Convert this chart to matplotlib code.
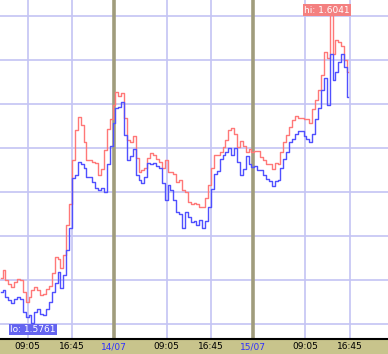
import numpy as np
import matplotlib.pyplot as plt

# half-hour samples, minutes counted from 13/07 00:00, first sample 04:30
start_min = 270
step_min = 30

ask = [1.5802, 1.5809, 1.5800, 1.5796, 1.5794, 1.5798, 1.5801, 1.5800, 1.5789, 1.5780,
       1.5785, 1.5791, 1.5794, 1.5791, 1.5786, 1.5787, 1.5792, 1.5795, 1.5806, 1.5821,
       1.5819, 1.5811, 1.5823, 1.5850, 1.5869, 1.5909, 1.5936, 1.5948, 1.5941, 1.5925,
       1.5909, 1.5909, 1.5907, 1.5906, 1.5895, 1.5901, 1.5918, 1.5937, 1.5946, 1.5959,
       1.5971, 1.5967, 1.5970, 1.5947, 1.5927, 1.5925, 1.5931, 1.5911, 1.5898, 1.5900,
       1.5902, 1.5911, 1.5915, 1.5914, 1.5910, 1.5907, 1.5902, 1.5909, 1.5898, 1.5898,
       1.5896, 1.5889, 1.5891, 1.5882, 1.5880, 1.5871, 1.5869, 1.5870, 1.5869, 1.5866,
       1.5866, 1.5875, 1.5886, 1.5902, 1.5914, 1.5914, 1.5916, 1.5921, 1.5927, 1.5936,
       1.5938, 1.5933, 1.5921, 1.5926, 1.5922, 1.5916, 1.5919, 1.5916, 1.5917, 1.5917,
       1.5912, 1.5909, 1.5905, 1.5905, 1.5901, 1.5906, 1.5905, 1.5916, 1.5925, 1.5932,
       1.5939, 1.5945, 1.5949, 1.5947, 1.5947, 1.5946, 1.5946, 1.5943, 1.5955, 1.5964,
       1.5973, 1.5986, 1.6007, 1.6002, 1.6041, 1.6005, 1.6018, 1.6016, 1.6013, 1.6000,
       1.5989]

bid = [1.5789, 1.5791, 1.5785, 1.5782, 1.5779, 1.5783, 1.5785, 1.5783, 1.5771, 1.5766,
       1.5768, 1.5761, 1.5771, 1.5774, 1.5769, 1.5768, 1.5774, 1.5780, 1.5789, 1.5797,
       1.5807, 1.5793, 1.5805, 1.5827, 1.5847, 1.5893, 1.5895, 1.5907, 1.5905, 1.5902,
       1.5894, 1.5894, 1.5889, 1.5884, 1.5882, 1.5884, 1.5880, 1.5905, 1.5922, 1.5943,
       1.5956, 1.5957, 1.5962, 1.5932, 1.5909, 1.5913, 1.5919, 1.5895, 1.5891, 1.5888,
       1.5894, 1.5906, 1.5905, 1.5906, 1.5904, 1.5902, 1.5888, 1.5873, 1.5886, 1.5882,
       1.5873, 1.5862, 1.5860, 1.5847, 1.5862, 1.5857, 1.5853, 1.5854, 1.5850, 1.5855,
       1.5847, 1.5854, 1.5866, 1.5883, 1.5896, 1.5899, 1.5910, 1.5914, 1.5916, 1.5920,
       1.5914, 1.5920, 1.5907, 1.5895, 1.5901, 1.5913, 1.5905, 1.5903, 1.5904, 1.5900,
       1.5900, 1.5895, 1.5892, 1.5890, 1.5885, 1.5890, 1.5891, 1.5902, 1.5910, 1.5916,
       1.5925, 1.5928, 1.5933, 1.5935, 1.5935, 1.5931, 1.5928, 1.5925, 1.5933, 1.5946,
       1.5956, 1.5973, 1.5984, 1.5959, 1.6005, 1.5982, 1.5989, 1.5998, 1.6005, 1.5994,
       1.5966]

days = ["13/07", "14/07", "15/07"]
session_ticks = [545, 1005]          # 09:05 and 16:45
session_labels = ["09:05", "16:45"]
price_grid = np.arange(1.576, 1.6041, 0.004)

t = start_min + step_min * np.arange(len(ask))

fig = plt.figure(figsize=(3.88, 3.54), dpi=100, facecolor="#c8c48c")
ax = fig.add_axes([0, 15 / 354, 1, 339 / 354])
ax.set_facecolor("white")

ax.set_xlim(259, 4280)
ax.set_ylim(1.57464, 1.60545)

for y in price_grid:
    ax.axhline(y, color="#c4c4f4", lw=1.2, zorder=1)

ticks, labels, colors = [], [], []
for d in range(len(days)):
    if d > 0:
        ax.axvline(d * 1440, color="#a09c7c", lw=2.6, zorder=2)
        ticks.append(d * 1440)
        labels.append(days[d])
        colors.append("#3030ff")
    for tm, lab in zip(session_ticks, session_labels):
        ax.axvline(d * 1440 + tm, color="#c4c4f4", lw=1.2, zorder=1)
        ticks.append(d * 1440 + tm)
        labels.append(lab)
        colors.append("black")

ax.plot(t, ask, color="#ff7878", lw=1.0, drawstyle="steps-mid", zorder=3)
ax.plot(t, bid, color="#5050ff", lw=1.0, drawstyle="steps-mid", zorder=4)

ax.set_xticks(ticks)
ax.set_xticklabels(labels, fontsize=6.5)
for lab, c in zip(ax.get_xticklabels(), colors):
    lab.set_color(c)
ax.tick_params(axis="x", length=0, pad=2.5)
ax.set_yticks([])

for s in ["top", "left", "right"]:
    ax.spines[s].set_visible(False)
ax.spines["bottom"].set_color("black")
ax.spines["bottom"].set_linewidth(1.5)

i_hi = int(np.argmax(ask))
i_lo = int(np.argmin(bid))
ax.text(t[i_hi] - 40, ask[i_hi], f"hi: {max(ask):.4f}", color="white", fontsize=6.5,
        ha="center", va="bottom",
        bbox=dict(boxstyle="square,pad=0.15", fc="#f48080", ec="none"), zorder=6)
ax.text(t[i_lo], min(bid) - 0.0002, f"lo: {min(bid):.4f}", color="white", fontsize=6.5,
        ha="center", va="top",
        bbox=dict(boxstyle="square,pad=0.15", fc="#6464f0", ec="none"), zorder=6)

fig.savefig("out.png", dpi=100, facecolor=fig.get_facecolor())
